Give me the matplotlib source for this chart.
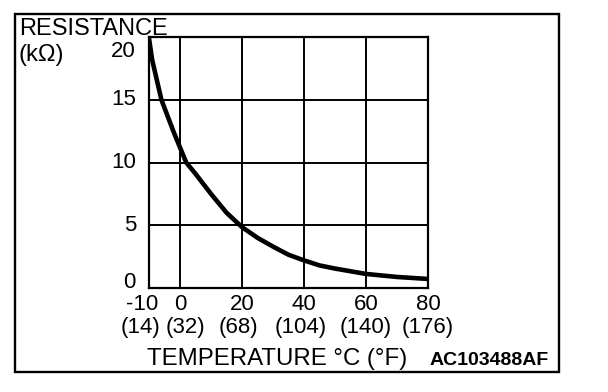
import matplotlib
matplotlib.use('Agg')
import matplotlib.pyplot as plt
from matplotlib.patches import Rectangle

plt.rcParams['font.family'] = ['Liberation Sans', 'DejaVu Sans']

# curve
temp_c = [-10, -9, -6, -2, 0, 2, 5, 10, 15, 20, 25, 30, 35, 40, 45, 50, 60, 70, 80]
res_k = [19.9, 18.2, 15.0, 12.4, 11.2, 10.0, 9.1, 7.5, 6.0, 4.85, 4.0, 3.3, 2.65, 2.2, 1.8, 1.55, 1.12, 0.88, 0.72]

# axis labels
x_ticks = [-10, 0, 20, 40, 60, 80]
x_labels_c = ['-10', '0', '20', '40', '60', '80']
x_labels_f = ['(14)', '(32)', '(68)', '(104)', '(140)', '(176)']
y_ticks = [0, 5, 10, 15, 20]
y_labels = ['0', '5', '10', '15', '20']

W, H = 608, 392
fig = plt.figure(figsize=(W / 100, H / 100), dpi=100)

# plot area in pixels: left 149, right 428, top 37, bottom 288
ax = fig.add_axes([149 / W, 1 - 288 / H, (428 - 149) / W, (288 - 37) / H])
ax.plot(temp_c, res_k, color='black', lw=3.3, solid_capstyle='butt', zorder=3)

ax.set_xlim(-10, 80)
ax.set_ylim(0, 20)
ax.set_xticks([0, 20, 40, 60, 80])
ax.set_xticklabels([])
ax.set_yticks(y_ticks)
ax.set_yticklabels([])
ax.tick_params(length=0)
ax.grid(True, color='black', lw=1.4)
for s in ax.spines.values():
    s.set_linewidth(1.6)

fs = 16

# y labels, ends pulled inside the axis range like the reference
nudge_y = [5, 0, 0, 0, -14]
for t, lab, dy in zip(y_ticks, y_labels, nudge_y):
    ax.annotate(lab, xy=(0, t), xycoords=('axes fraction', 'data'),
                xytext=(-13, dy), textcoords='offset pixels',
                ha='right', va='center', fontsize=fs)

# two rows of x labels, nudged apart where they crowd
nudge_c = [-7, 0, 0, 0, 0, 0]
nudge_f = [-8, 5, -4, -3, 0, 0]
for t, lc, lf, dc, df in zip(x_ticks, x_labels_c, x_labels_f, nudge_c, nudge_f):
    ax.annotate(lc, xy=(t, 0), xycoords=('data', 'axes fraction'),
                xytext=(dc, -16), textcoords='offset pixels',
                ha='center', va='center', fontsize=fs)
    ax.annotate(lf, xy=(t, 0), xycoords=('data', 'axes fraction'),
                xytext=(df, -39), textcoords='offset pixels',
                ha='center', va='center', fontsize=fs)

# texts
fig.text(19 / W, 1 - 35 / H, 'RESISTANCE', fontsize=17, va='baseline')
fig.text(19 / W, 1 - 61 / H, '(kΩ)', fontsize=17, va='baseline')
fig.text(147 / W, 1 - 365 / H, 'TEMPERATURE °C (°F)', fontsize=17.3, va='baseline')
fig.text(430 / W, 1 - 365 / H, 'AC103488AF', fontsize=14, fontweight='bold', va='baseline')

# outer frame
fig.add_artist(Rectangle((15 / W, 1 - 372 / H), 544 / W, 358 / H,
                         transform=fig.transFigure, fill=False, lw=1.7, color='black'))

fig.savefig('out.png', dpi=100)
